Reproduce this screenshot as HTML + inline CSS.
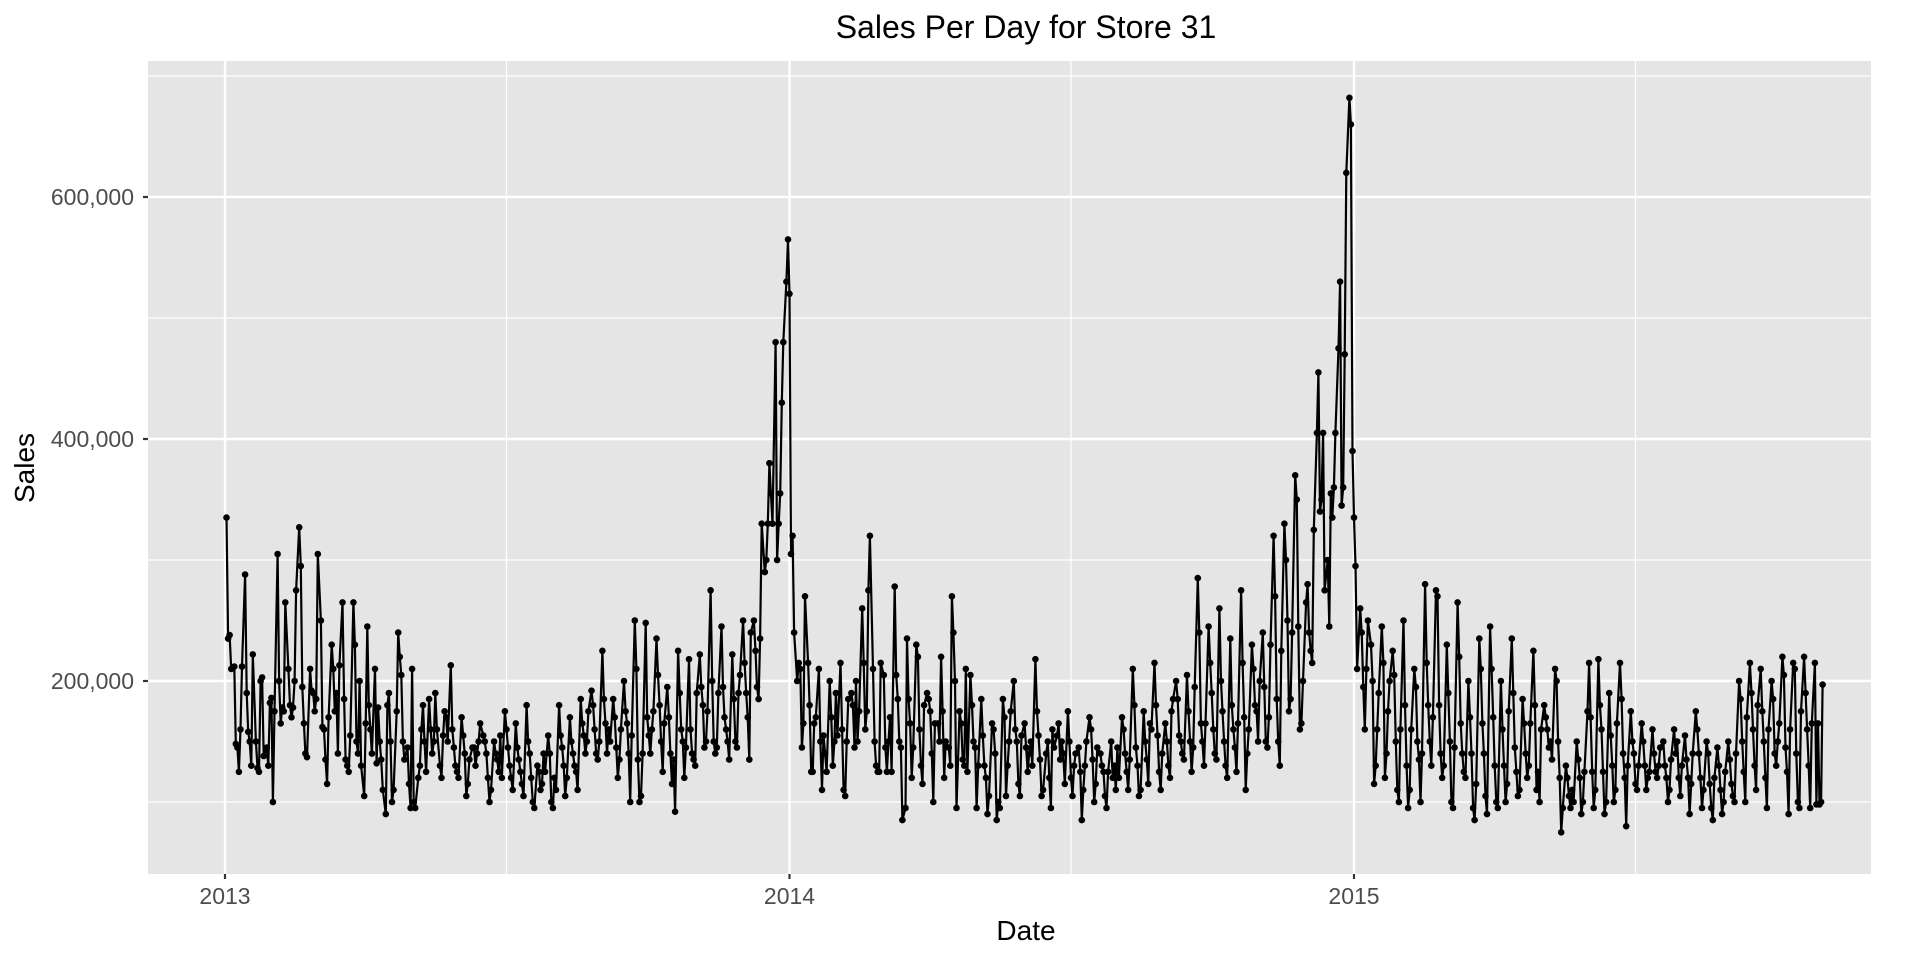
<!DOCTYPE html>
<html><head><meta charset="utf-8"><title>Sales Per Day for Store 31</title>
<style>
html,body{margin:0;padding:0;background:#fff;}
svg{display:block;font-family:"Liberation Sans",Arial,sans-serif;}
</style></head>
<body>
<svg id="chart" width="1920" height="960" viewBox="0 0 1920 960">
<text x="1026" y="38" text-anchor="middle" font-size="32" fill="#000">Sales Per Day for Store 31</text>
<rect x="148" y="61" width="1723" height="813" fill="#e5e5e5"/>
<g id="grid"></g>
<g id="series"></g>
<g id="axes"></g>
<text x="1026" y="940" text-anchor="middle" font-size="28" fill="#000">Date</text>
<text x="0" y="0" transform="translate(34,468) rotate(-90)" text-anchor="middle" font-size="28" fill="#000">Sales</text>
</svg>
<script>
const yTicks = [200000, 400000, 600000];
const yMinor = [100000, 300000, 500000, 700000];
const yTickLabels = ["200,000", "400,000", "600,000"];
const xTicks = ["2013-01-01", "2014-01-01", "2015-01-01"];
const xMinor = ["2013-07-02", "2014-07-02", "2015-07-02"];
const xTickLabels = ["2013", "2014", "2015"];
const startDate = "2013-01-02";
// daily sales in thousands (Mon-Sat, Sundays closed)
const sales2013 = [335,235,238,210,
212,148,145,125,160,212, 288,190,158,150,130,222, 150,128,125,200,203,138, 145,130,182,186,100,175,
305,200,165,178,175,265, 210,180,170,178,200,275, 327,295,195,165,140,137, 210,192,190,175,185,305,
250,162,160,135,115,170, 230,210,175,190,140,213, 265,185,135,130,125,155, 265,230,150,140,200,130,
105,165,245,180,160,140, 210,132,178,150,135,110, 90,180,190,150,100,110, 175,240,220,205,150,135, 145,115,95,210,100,95,
120,130,160,180,150,125, 185,160,140,150,190,160, 130,120,155,175,170,150, 213,160,145,130,125,120,
170,155,140,105,115,135, 145,145,130,140,150,165, 155,150,140,120,100,110, 150,140,135,125,155,120,
175,160,145,130,120,110, 165,145,135,125,115,105, 180,150,140,120,100,95, 130,125,110,115,140,125, 155,140,100,95,120,110,
180,155,145,130,105,120, 170,150,140,130,125,110, 185,165,155,140,150,175, 192,180,160,140,135,150,
225,185,165,140,160,150, 185,170,145,120,135,160, 200,175,165,140,100,155, 250,210,135,100,105,140, 248,170,155,140,160,175,
235,205,180,150,125,165, 195,170,140,115,135,92, 225,190,160,150,120,145, 218,160,140,135,130,190,
222,195,180,145,150,175, 275,200,150,140,145,190, 245,195,170,160,150,135, 222,185,150,145,190,205,
250,215,190,170,135,240, 250,225,195,185,235,330, 290,300,330,380,355,330, 480,300,330,355,430,480, 530,565,520,305,320,240];
const sales2014 = [
200,215,210,145,165,270, 215,180,125,125,165,170, 210,150,110,155,140,125, 200,170,130,150,190,155,
215,160,110,105,150,185, 190,180,145,200,150,175, 260,215,160,175,275,320, 210,150,130,125,125,215,
205,145,125,150,170,125, 278,205,185,150,145,85, 95,235,185,165,120,145, 230,220,160,130,115,180, 190,185,175,140,100,165,
165,150,220,175,120,150, 145,130,270,240,200,95, 175,165,135,130,210,125, 205,180,150,145,95,130,
185,155,130,120,90,105, 165,160,140,85,100,95, 185,170,105,130,150,175, 200,160,150,115,105,155,
165,145,125,140,150,130, 218,175,155,135,105,110, 140,150,120,95,160,145, 155,165,135,150,140,115, 175,150,120,105,130,140,
145,125,85,110,130,150, 170,160,135,100,115,145, 140,130,125,105,95,125, 150,120,130,110,145,120,
170,160,140,125,110,135, 210,180,145,130,105,110, 175,150,135,115,165,160, 215,180,155,125,110,140,
165,150,130,120,175,185, 200,185,155,150,140,135, 205,175,150,125,145,195, 285,240,165,150,130,165, 245,215,190,160,140,135,
260,200,175,150,130,120, 235,180,160,145,125,165, 275,215,170,110,140,160, 230,210,180,175,150,200,
240,195,150,145,170,230, 320,270,185,150,130,225, 330,300,250,175,185,240, 370,350,245,160,165,200,
265,280,240,225,215,325, 405,455,340,350,405,275, 300,245,355,335,360,405, 475,530,345,360,470,620, 682,660,390,335,295,210];
const sales2015 = [
260,240,195,160,210,250, 230,200,115,130,160,190, 245,215,120,140,175,200, 225,205,150,110,100,160,
250,180,130,95,110,160, 210,195,150,135,100,140, 280,215,180,150,130,170, 275,270,180,140,120,130,
230,190,150,100,95,145, 265,220,165,140,125,120, 200,170,140,95,85,115, 235,210,165,140,105,90, 245,210,170,130,100,95,
200,160,130,100,115,175, 235,190,145,125,105,110, 185,165,140,120,130,165, 225,180,110,125,100,160,
180,170,160,145,150,135, 210,200,150,120,75,95, 130,120,105,95,110,100, 150,135,120,90,100,125,
175,215,170,125,95,110, 218,180,160,125,90,100, 190,155,130,100,110,165, 215,185,140,120,80,130, 175,150,140,115,110,130,
165,150,130,110,120,125, 160,140,125,120,130,145, 150,130,120,100,110,135, 160,140,150,120,105,130,
155,135,120,90,115,140, 175,160,140,120,95,110, 150,140,115,95,85,120, 145,130,110,90,100,125, 150,135,115,105,100,140,
200,185,150,125,100,170, 215,190,160,130,110,180, 210,175,150,120,95,160, 200,185,140,130,150,165,
220,205,145,125,90,160, 215,210,140,100,95,175, 220,190,160,130,95,165, 215,98,165,98,100,197];

const NS = "http://www.w3.org/2000/svg";
const P = {l:148, t:61, r:1871, b:874};
const DAY = 86400000;
const x0 = Date.UTC(2013,0,1), x1 = Date.UTC(2015,0,1);
function xScale(ms){ return 225 + (ms - x0) / (x1 - x0) * (1354 - 225); }
function yScale(v){ return 681 - (v - 200000) * 121 / 100000; }
function parse(s){ const p = s.split("-"); return Date.UTC(+p[0], +p[1]-1, +p[2]); }

const grid = document.getElementById("grid");
const axes = document.getElementById("axes");
const series = document.getElementById("series");

yMinor.forEach(v => {
  const l = document.createElementNS(NS, "line");
  l.setAttribute("x1", P.l); l.setAttribute("x2", P.r);
  l.setAttribute("y1", yScale(v)); l.setAttribute("y2", yScale(v));
  l.setAttribute("stroke", "#fff"); l.setAttribute("stroke-width", "1.2");
  
  
  grid.appendChild(l);
});
xMinor.forEach(d => {
  const x = xScale(parse(d));
  const l = document.createElementNS(NS, "line");
  l.setAttribute("x1", x); l.setAttribute("x2", x);
  l.setAttribute("y1", P.t); l.setAttribute("y2", P.b);
  l.setAttribute("stroke", "#fff"); l.setAttribute("stroke-width", "1.2");
  
  
  grid.appendChild(l);
});
yTicks.forEach((v, i) => {
  const y = yScale(v);
  const l = document.createElementNS(NS, "line");
  l.setAttribute("x1", P.l); l.setAttribute("x2", P.r);
  l.setAttribute("y1", y); l.setAttribute("y2", y);
  l.setAttribute("stroke", "#fff"); l.setAttribute("stroke-width", "2.4");
  
  
  grid.appendChild(l);
  const t = document.createElementNS(NS, "line");
  t.setAttribute("x1", P.l - 5); t.setAttribute("x2", P.l);
  t.setAttribute("y1", y); t.setAttribute("y2", y);
  t.setAttribute("stroke", "#333"); t.setAttribute("stroke-width", "2.2");
  
  
  axes.appendChild(t);
  const tx = document.createElementNS(NS, "text");
  tx.setAttribute("x", P.l - 14); tx.setAttribute("y", y + 8);
  tx.setAttribute("text-anchor", "end"); tx.setAttribute("font-size", "23");
  tx.setAttribute("fill", "#4d4d4d");
  tx.textContent = yTickLabels[i];
  
  
  axes.appendChild(tx);
});
xTicks.forEach((d, i) => {
  const x = xScale(parse(d));
  const l = document.createElementNS(NS, "line");
  l.setAttribute("x1", x); l.setAttribute("x2", x);
  l.setAttribute("y1", P.t); l.setAttribute("y2", P.b);
  l.setAttribute("stroke", "#fff"); l.setAttribute("stroke-width", "2.4");
  
  
  grid.appendChild(l);
  const t = document.createElementNS(NS, "line");
  t.setAttribute("x1", x); t.setAttribute("x2", x);
  t.setAttribute("y1", P.b); t.setAttribute("y2", P.b + 5);
  t.setAttribute("stroke", "#333"); t.setAttribute("stroke-width", "2.2");
  
  
  axes.appendChild(t);
  const tx = document.createElementNS(NS, "text");
  tx.setAttribute("x", x); tx.setAttribute("y", P.b + 30);
  tx.setAttribute("text-anchor", "middle"); tx.setAttribute("font-size", "23");
  tx.setAttribute("fill", "#4d4d4d");
  tx.textContent = xTickLabels[i];
  
  
  axes.appendChild(tx);
});

// build open-day dates (skip Sundays)
const values = sales2013.concat(sales2014, sales2015);
const dates = [];
let d = parse(startDate);
while (dates.length < values.length) {
  if (new Date(d).getUTCDay() !== 0) dates.push(d);
  d += DAY;
}
let path = "";
values.forEach((v, i) => {
  const x = xScale(dates[i]), y = yScale(v * 1000);
  path += (i ? "L" : "M") + x.toFixed(1) + " " + y.toFixed(1);
});
const line = document.createElementNS(NS, "path");
line.setAttribute("d", path);
line.setAttribute("fill", "none"); line.setAttribute("stroke", "#000");
line.setAttribute("stroke-width", "2.2"); line.setAttribute("stroke-linejoin", "round");


series.appendChild(line);
values.forEach((v, i) => {
  const c = document.createElementNS(NS, "circle");
  c.setAttribute("cx", xScale(dates[i]).toFixed(1));
  c.setAttribute("cy", yScale(v * 1000).toFixed(1));
  c.setAttribute("r", "3.3"); c.setAttribute("fill", "#000");
  
  
  series.appendChild(c);
});
</script>
</body></html>
